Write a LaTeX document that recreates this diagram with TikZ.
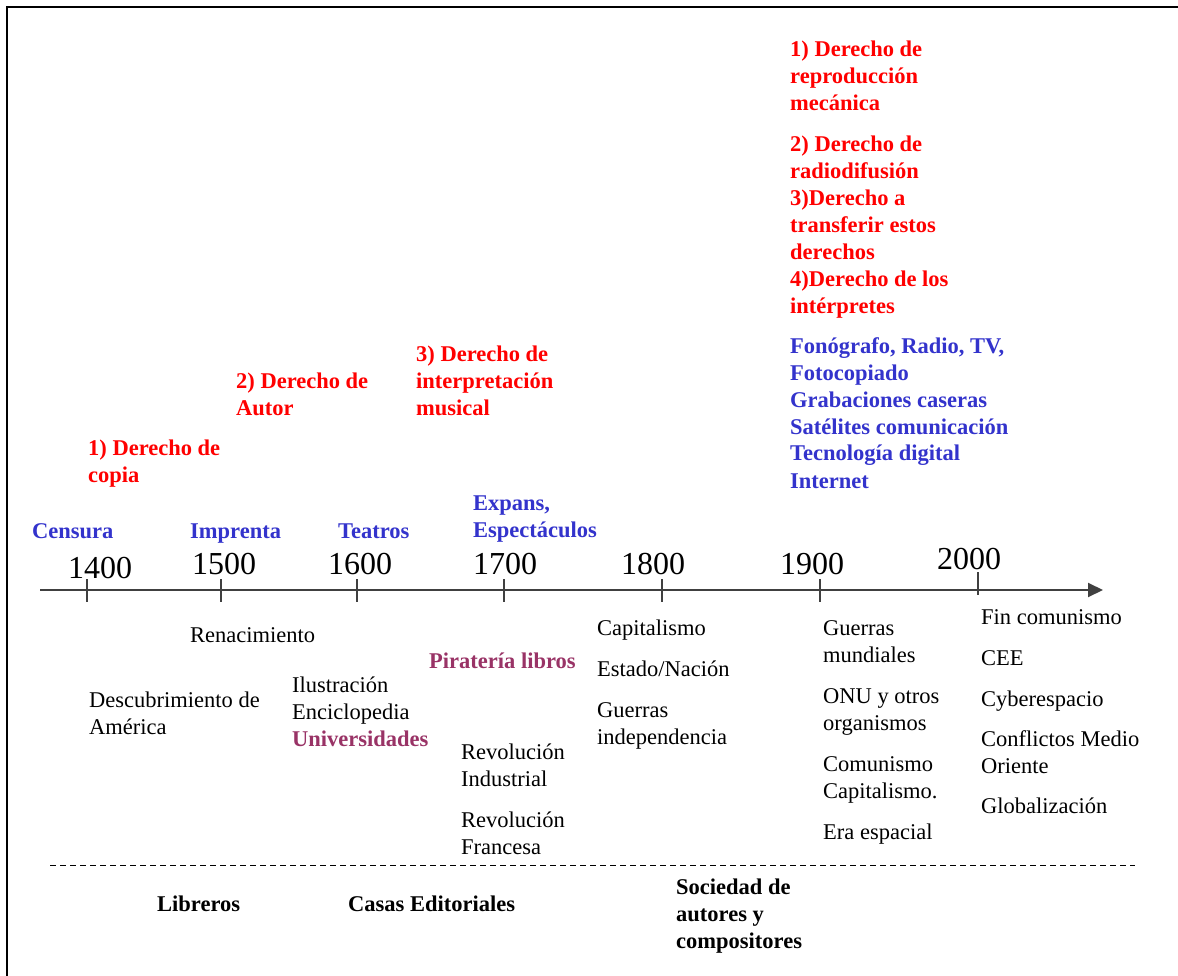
\documentclass[tikz,border=0pt]{standalone}
\usepackage{fontspec}
\setmainfont{Liberation Serif}
\usetikzlibrary{arrows.meta}
\definecolor{derecho}{RGB}{255,0,0}
\definecolor{tecno}{RGB}{51,51,204}
\definecolor{pirata}{RGB}{153,51,102}
\definecolor{eje}{RGB}{64,64,64}
% stacked lines whose baseline is the first line's baseline
\newcommand{\renglones}[1]{\begin{tabular}[t]{@{}l@{}}#1\end{tabular}}
\begin{document}
\begin{tikzpicture}[x=1pt,y=-1pt,
  txt/.style={anchor=base west,inner sep=0pt,font=\fontsize{22.5}{27}\selectfont},
  red/.style={txt,text=derecho,font=\fontsize{22.5}{27}\selectfont\bfseries},
  blue/.style={txt,text=tecno,font=\fontsize{22.5}{27}\selectfont\bfseries},
  purp/.style={txt,text=pirata,font=\fontsize{22.5}{27}\selectfont\bfseries},
  bold/.style={txt,font=\fontsize{22.5}{27}\selectfont\bfseries},
  year/.style={anchor=base,inner sep=0pt,font=\fontsize{32}{38}\selectfont},
  tick/.style={eje,line width=1.5pt}]
\useasboundingbox (0,0) rectangle (1178,976);
\fill[white] (0,0) rectangle (1178,976);

% frame
\draw[line width=1.8pt] (7,976) -- (7,7) -- (1178,7);

% time axis
\coordinate (ejeA) at (40,590);
\coordinate (ejeB) at (1103,590);
\draw[eje,line width=2pt,-{Triangle[length=15pt,width=14pt]}] (ejeA) -- (ejeB);
\foreach \x in {87,221,357,504,662,820} \draw[tick] (\x,579) -- (\x,602);
\draw[tick] (978,572) -- (978,595);

% years
\node[year] (y1400) at (100,578) {1400};
\node[year] (y1500) at (224,574) {1500};
\node[year] (y1600) at (360,574) {1600};
\node[year] (y1700) at (505,574) {1700};
\node[year] (y1800) at (653,574) {1800};
\node[year] (y1900) at (812,574) {1900};
\node[year] (y2000) at (969,569) {2000};

% technologies above the axis
\node[blue] (censura) at (32,538) {Censura};
\node[blue] (imprenta) at (190,538) {Imprenta};
\node[blue] (teatros) at (338,538) {Teatros};
\node[blue] (expans) at (473,510) {\renglones{Expans,\\Espectáculos}};
\node[blue] (tec) at (790,353) {\renglones{Fonógrafo, Radio, TV,\\Fotocopiado\\Grabaciones caseras\\Satélites comunicación\\Tecnología digital\\Internet}};

% rights
\node[red] (d1) at (88,455) {\renglones{1) Derecho de\\copia}};
\node[red] (d2) at (236,388) {\renglones{2) Derecho de\\Autor}};
\node[red] (d3) at (416,361) {\renglones{3) Derecho de\\interpretación\\musical}};
\node[red] (d4) at (790,57) {\renglones{1) Derecho de\\reproducción\\mecánica\\[14pt]2) Derecho de\\radiodifusión\\3)Derecho a\\transferir estos\\derechos\\4)Derecho de los\\intérpretes}};

% events below the axis
\node[txt] (renac) at (190,642) {Renacimiento};
\node[txt] (descub) at (89,707) {\renglones{Descubrimiento de\\América}};
\node[txt] (ilus) at (292,692) {\renglones{Ilustración\\Enciclopedia}};
\node[purp] (univ) at (292,746) {Universidades};
\node[purp] (pirat) at (429,668) {Piratería libros};
\node[txt] (revind) at (461,759) {\renglones{Revolución\\Industrial}};
\node[txt] (revfr) at (461,827) {\renglones{Revolución\\Francesa}};
\node[txt] (capit) at (597,635) {Capitalismo};
\node[txt] (estado) at (597,676) {Estado/Nación};
\node[txt] (indep) at (597,717) {\renglones{Guerras\\independencia}};
\node[txt] (guerras) at (823,635) {\renglones{Guerras\\mundiales}};
\node[txt] (onu) at (823,703) {\renglones{ONU y otros\\organismos}};
\node[txt] (comun) at (823,771) {\renglones{Comunismo\\Capitalismo.}};
\node[txt] (espacial) at (823,839) {Era espacial};
\node[txt] (fin) at (981,624) {Fin comunismo};
\node[txt] (cee) at (981,665) {CEE};
\node[txt] (cyber) at (981,706) {Cyberespacio};
\node[txt] (medio) at (981,746) {\renglones{Conflictos Medio\\Oriente}};
\node[txt] (glob) at (981,813) {Globalización};

% separator and actors
\draw[line width=1pt,dash pattern=on 6pt off 4pt] (50,865) -- (1135,865);
\node[bold] (libreros) at (157,911) {Libreros};
\node[bold] (casas) at (348,911) {Casas Editoriales};
\node[bold] (sociedad) at (676,894) {\renglones{Sociedad de\\autores y\\compositores}};
\end{tikzpicture}
\end{document}
